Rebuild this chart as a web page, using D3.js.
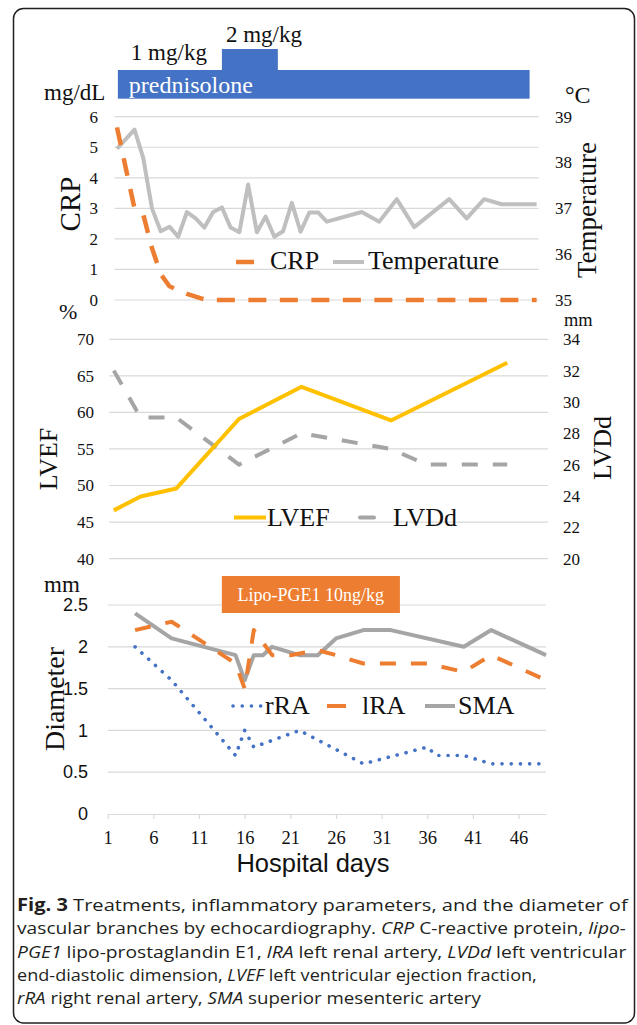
<!DOCTYPE html>
<html><head><meta charset="utf-8">
<script src="https://cdn.jsdelivr.net/npm/d3@7"></script>
<style>body{margin:0;background:#fff}svg{display:block}</style>
</head><body>
<svg id="c" width="637" height="1025"></svg>
<script>
// ---------------- DATA ----------------
// Treatments (hospital days)
const prednisoloneDoses = ["1 mg/kg", "2 mg/kg"];
const prednisoloneStart = [1.1, 13];
const prednisoloneEnd = [48.2, 19.4];
const lipoLabel = "Lipo-PGE1 10ng/kg";
const lipoStart = 13.5, lipoEnd = 33;

// Panel 1: CRP (mg/dL) and temperature (°C)
const crpDays = [1, 3, 4, 5, 6, 7, 9, 11, 12, 49];
const crpValues = [5.65, 3.0, 2.8, 1.7, 0.85, 0.45, 0.2, 0.02, 0, 0];
const tempDays = [1,3,4,5,6,7,8,9,10,11,12,13,14,15,16,17,18,19,20,21,22,23,24,25,29,31,33,35,39,41,43,45,49];
const tempValues = [38.3,38.72,38.1,37.0,36.5,36.6,36.38,36.92,36.78,36.58,36.92,37.02,36.58,36.48,37.52,36.48,36.82,36.38,36.5,37.12,36.49,36.91,36.91,36.71,36.92,36.71,37.2,36.59,37.2,36.78,37.2,37.09,37.09];
const crpTicks = [0,1,2,3,4,5,6];
const tempTicks = [35,36,37,38,39];

// Panel 2: LVEF (%) and LVDd (mm)
const lvefDays = [1, 4, 8, 15, 22, 32, 45];
const lvefValues = [46.6, 48.5, 49.6, 59.1, 63.5, 58.9, 66.8];
const lvddDays = [1, 4, 8, 15, 22, 32, 36, 45];
const lvddValues = [32, 29, 29, 26, 28, 27, 26, 26];
const lvefTicks = [40,45,50,55,60,65,70];
const lvddTicks = [20,22,24,26,28,30,32,34];

// Panel 3: vessel diameter (mm)
const rraDays = [4, 8, 15, 16, 17, 22, 29, 36, 37, 40, 43, 49];
const rraValues = [2.0, 1.6, 0.7, 1.0, 0.8, 1.0, 0.6, 0.8, 0.7, 0.7, 0.6, 0.6];
const lraDays = [4, 8, 15, 16, 17, 19, 21, 24, 26, 29, 36, 40, 43, 49];
const lraValues = [2.2, 2.3, 1.8, 1.5, 2.2, 1.9, 1.9, 1.96, 1.9, 1.8, 1.8, 1.7, 1.9, 1.6];
const smaDays = [4, 8, 15, 16, 17, 18, 19, 22, 24, 26, 29, 32, 40, 43, 49];
const smaValues = [2.4, 2.1, 1.9, 1.6, 1.9, 1.9, 2.0, 1.9, 1.9, 2.1, 2.2, 2.2, 2.0, 2.2, 1.9];
const diaTicks = [0, 0.5, 1, 1.5, 2, 2.5];
const dayTicks = [1, 6, 11, 16, 21, 26, 31, 36, 41, 46];

const captionLines = [
  [["Fig. 3", "b"], [" Treatments, inflammatory parameters, and the diameter of", ""]],
  [["vascular branches by echocardiography. ", ""], ["CRP", "i"], [" C-reactive protein, ", ""], ["lipo-", "i"]],
  [["PGE1", "i"], [" lipo-prostaglandin E1, ", ""], ["lRA", "i"], [" left renal artery, ", ""], ["LVDd", "i"], [" left ventricular", ""]],
  [["end-diastolic dimension, ", ""], ["LVEF", "i"], [" left ventricular ejection fraction,", ""]],
  [["rRA", "i"], [" right renal artery, ", ""], ["SMA", "i"], [" superior mesenteric artery", ""]]
];

// ---------------- DRAW ----------------
const SERIF = "'Liberation Serif','Times New Roman',serif";
const SANS = "'Liberation Sans',Arial,sans-serif";
const CAPF = "'Open Sans','Noto Sans',sans-serif";
const BLUE = "#4472C4", ORANGE = "#ED7D31", GRAY = "#A5A5A5", LGRAY = "#BFBFBF", YELLOW = "#FFC000", GRID = "#D9D9D9";
const svg = d3.select("#c");

function txt(x, y, s, size, opt = {}) {
  return svg.append("text").attr("x", x).attr("y", y).text(s)
    .attr("font-family", opt.family || SERIF).attr("font-size", size)
    .attr("fill", opt.fill || "#111").attr("text-anchor", opt.anchor || "start");
}
function vtxt(x, y, s, size, opt = {}) {
  return svg.append("text").attr("transform", `translate(${x},${y}) rotate(-90)`).text(s)
    .attr("font-family", opt.family || SERIF).attr("font-size", size)
    .attr("fill", "#111").attr("text-anchor", "middle");
}
function grid(y, ticks, x0, x1) {
  svg.append("g").selectAll("line").data(ticks).join("line")
    .attr("x1", x0).attr("x2", x1).attr("y1", d => y(d)).attr("y2", d => y(d))
    .attr("stroke", GRID).attr("stroke-width", 1.2);
}
function axisLabels(axisFn, y, ticks, x, size, family, fmt) {
  const g = svg.append("g").attr("transform", `translate(${x},0)`)
    .call(axisFn(y).tickValues(ticks).tickSize(0).tickPadding(0).tickFormat(fmt || d3.format("d")));
  g.select(".domain").remove();
  g.selectAll("text").attr("font-family", family).attr("font-size", size).attr("fill", "#111");
}
function series(x, y, days, vals, stroke, width, dash, cap) {
  const line = d3.line().x(d => x(d[0])).y(d => y(d[1]));
  svg.append("path").datum(d3.zip(days, vals)).attr("d", line)
    .attr("fill", "none").attr("stroke", stroke).attr("stroke-width", width)
    .attr("stroke-dasharray", dash || null).attr("stroke-linecap", cap || "butt")
    .attr("stroke-linejoin", "round");
}
function legendSample(x0, x1, y, stroke, width, dash, cap) {
  svg.append("line").attr("x1", x0).attr("x2", x1).attr("y1", y).attr("y2", y)
    .attr("stroke", stroke).attr("stroke-width", width)
    .attr("stroke-dasharray", dash || null).attr("stroke-linecap", cap || "butt");
}

// frame
svg.append("rect").attr("x", 13.5).attr("y", 8.5).attr("width", 621).attr("height", 1014.5)
  .attr("rx", 10).attr("fill", "none").attr("stroke", "#231f20").attr("stroke-width", 1.5);

// ---- Panel 1 ----
const xTop = d3.scaleLinear().domain([1, 49]).range([117, 536.6]);
const yCrp = d3.scaleLinear().domain([0, 6]).range([300, 116.7]);
const yTemp = d3.scaleLinear().domain([35, 39]).range([300, 116.7]);

svg.append("rect").attr("x", xTop(prednisoloneStart[0])).attr("y", 70)
  .attr("width", xTop(prednisoloneEnd[0]) - xTop(prednisoloneStart[0])).attr("height", 28.7).attr("fill", BLUE);
svg.append("rect").attr("x", xTop(prednisoloneStart[1])).attr("y", 49)
  .attr("width", xTop(prednisoloneEnd[1]) - xTop(prednisoloneStart[1])).attr("height", 21.5).attr("fill", BLUE);
txt(xTop(prednisoloneStart[0]) + 13, 59.5, prednisoloneDoses[0], 23);
txt(xTop(prednisoloneStart[1]) + 4, 42, prednisoloneDoses[1], 23);
txt(xTop(prednisoloneStart[0]) + 11, 92.5, "prednisolone", 24, {fill: "#fff"});

grid(yCrp, crpTicks, 114.5, 538.6);
axisLabels(d3.axisLeft, yCrp, crpTicks, 98, 17, SERIF);
axisLabels(d3.axisRight, yTemp, tempTicks, 555, 17, SERIF);
txt(44, 100, "mg/dL", 23);
txt(565, 103, "°C", 24);
vtxt(80, 204, "CRP", 29);
vtxt(596, 210, "Temperature", 27);

series(xTop, yTemp, tempDays, tempValues, LGRAY, 4);
series(xTop, yCrp, crpDays, crpValues, ORANGE, 4.5, "18 13.5");

legendSample(236, 254, 262, ORANGE, 4.5);
txt(270, 269, "CRP", 26);
legendSample(333, 364, 262, LGRAY, 4);
txt(368, 269, "Temperature", 26);

// ---- Panel 2 ----
const xMid = d3.scaleLinear().domain([1, 49]).range([113.8, 543]);
const yEf = d3.scaleLinear().domain([40, 70]).range([558.6, 339.3]);
const yDd = d3.scaleLinear().domain([20, 34]).range([558.6, 339.3]);
grid(yEf, lvefTicks, 109, 548);
axisLabels(d3.axisLeft, yEf, lvefTicks, 94, 17, SERIF);
axisLabels(d3.axisRight, yDd, lvddTicks, 563, 17, SERIF);
txt(59, 319, "%", 22);
txt(564, 325.6, "mm", 18.4);
vtxt(57, 459, "LVEF", 26);
vtxt(611, 448, "LVDd", 26);

series(xMid, yDd, lvddDays, lvddValues, GRAY, 4, "16 15");
series(xMid, yEf, lvefDays, lvefValues, YELLOW, 4);

legendSample(234, 266, 517.5, YELLOW, 4);
txt(267, 526, "LVEF", 26);
legendSample(360, 374, 517.5, GRAY, 4, null, "round");
txt(393, 526, "LVDd", 26);

// ---- Panel 3 ----
const xBot = d3.scaleLinear().domain([1, 49]).range([107.7, 546]);
const yDia = d3.scaleLinear().domain([0, 2.5]).range([814, 605]);
grid(yDia, diaTicks.filter(d => d > 0), 107.7, 546);
axisLabels(d3.axisLeft, yDia, diaTicks, 88, 18, SANS, d => String(d));

const gx = svg.append("g").attr("transform", "translate(0,814)")
  .call(d3.axisBottom(xBot).tickValues(dayTicks).tickSize(5).tickSizeOuter(0).tickPadding(12).tickFormat(d3.format("d")));
gx.select(".domain").attr("stroke", GRID).attr("stroke-width", 1.2);
gx.selectAll(".tick line").attr("stroke", GRID).attr("stroke-width", 1.2);
gx.selectAll("text").attr("font-family", SERIF).attr("font-size", 18.5).attr("fill", "#111");
txt(313, 871.5, "Hospital days", 25.5, {family: SANS, anchor: "middle"});
txt(44, 592, "mm", 23);
vtxt(64, 699, "Diameter", 28);

svg.append("rect").attr("x", xBot(lipoStart)).attr("y", 576)
  .attr("width", xBot(lipoEnd) - xBot(lipoStart)).attr("height", 37).attr("fill", ORANGE);
txt((xBot(lipoStart) + xBot(lipoEnd)) / 2, 601, lipoLabel, 18, {fill: "#fff", anchor: "middle"});

series(xBot, yDia, smaDays, smaValues, GRAY, 4);
series(xBot, yDia, lraDays, lraValues, ORANGE, 4, "16 15");
series(xBot, yDia, rraDays, rraValues, BLUE, 3.6, "0.1 9.1", "round");

legendSample(233, 264, 706, BLUE, 3.6, "0.1 9.1", "round");
txt(265, 714, "rRA", 26);
legendSample(327, 346, 706, ORANGE, 4);
txt(362, 714, "lRA", 26);
legendSample(425, 455, 706, GRAY, 4);
txt(458, 714, "SMA", 26);

// ---- Caption ----
const captionRight = [628, 626, 627, 537, 481];
const cap = svg.append("g");
captionLines.forEach((parts, i) => {
  const g = cap.append("g");
  const t = g.append("text").attr("x", 0).attr("y", 911 + i * 23.3)
    .attr("font-family", CAPF).attr("font-size", 17).attr("fill", "#231f20");
  parts.forEach(([s, st]) => {
    const sp = t.append("tspan").text(s);
    if (st === "b") sp.attr("font-weight", "bold");
    if (st === "i") sp.attr("font-style", "italic");
  });
  const w = t.node().getComputedTextLength();
  g.attr("transform", `translate(17,0) scale(${(captionRight[i] - 17) / w},1)`);
});
</script>
</body></html>
